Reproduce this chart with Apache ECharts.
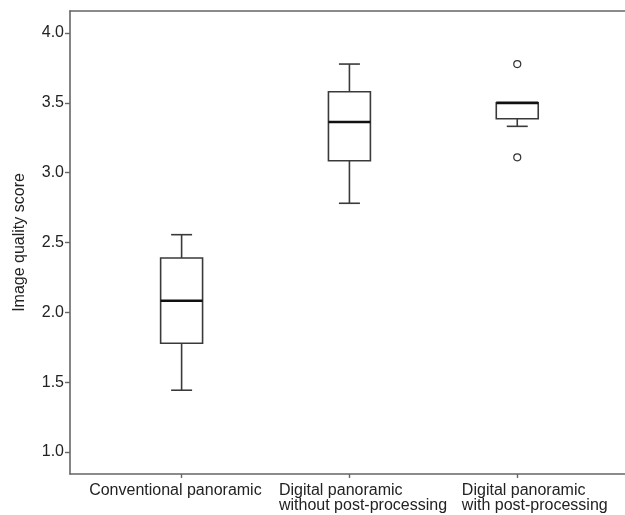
<!DOCTYPE html>
<html>
<head>
<meta charset="utf-8">
<script src="https://cdn.jsdelivr.net/npm/echarts@6/dist/echarts.min.js"></script>
<style>html,body{margin:0;padding:0;background:#fff}#c{width:625px;height:515px}</style>
</head>
<body>
<div id="c"></div>
<script>
// ---- data ----
const categories = ['Conventional panoramic', 'Digital panoramic\nwithout post-processing', 'Digital panoramic\nwith post-processing'];
// [lower whisker, Q1, median, Q3, upper whisker]
const boxStats = [
  [1.442, 1.778, 2.083, 2.389, 2.556],
  [2.781, 3.086, 3.363, 3.580, 3.778],
  [3.332, 3.386, 3.500, 3.500, 3.500]
];
// outliers: [category index, value]
const outliers = [[2, 3.778], [2, 3.110]];
const yTicks = [1.0, 1.5, 2.0, 2.5, 3.0, 3.5, 4.0];
const yAxisTitle = 'Image quality score';

// ---- layout ----
const labelShift = [-0.551, -0.42, -0.33];
const font = 'Liberation Sans, Arial, Helvetica, sans-serif';
const boxData = boxStats.map((s, i) => [i + 1].concat(s));
const outlierData = outliers.map(o => [o[0] + 1, o[1]]);
const catPos = categories.map((c, i) => i + 1);
const labelPos = categories.map((c, i) => i + 1 + labelShift[i]);

const chart = echarts.init(document.getElementById('c'), null, {renderer: 'canvas'});
chart.setOption({
  animation: false,
  grid: {left: 70, right: 0, top: 11, bottom: 41, containLabel: false},
  xAxis: [{
    type: 'value', min: 0.335, max: 3.642, position: 'bottom',
    axisLine: {show: true, onZero: false, lineStyle: {color: '#666', width: 1.6}},
    axisTick: {show: true, customValues: catPos, length: 4, lineStyle: {color: '#666', width: 1.4}},
    axisLabel: {
      show: true, customValues: labelPos, align: 'left', margin: 9,
      color: '#222', fontSize: 16, fontFamily: font, lineHeight: 15,
      formatter: function (v) {
        const i = labelPos.findIndex(p => Math.abs(p - v) < 1e-6);
        return i >= 0 ? categories[i] : '';
      }
    },
    splitLine: {show: false}
  }, {
    type: 'value', min: 0.335, max: 3.642, position: 'top',
    axisLine: {show: true, onZero: false, lineStyle: {color: '#666', width: 1.6}},
    axisTick: {show: false}, axisLabel: {show: false}, splitLine: {show: false}
  }],
  yAxis: {
    type: 'value', min: 0.842, max: 4.158,
    name: yAxisTitle, nameLocation: 'middle', nameGap: 42, nameRotate: 90,
    nameTextStyle: {color: '#222', fontSize: 16, fontFamily: font},
    axisLine: {show: true, onZero: false, lineStyle: {color: '#666', width: 1.6}},
    axisTick: {show: true, customValues: yTicks, length: 5, lineStyle: {color: '#666', width: 1.4}},
    axisLabel: {
      show: true, customValues: yTicks, margin: 6,
      color: '#222', fontSize: 16, fontFamily: font,
      formatter: v => Number(v).toFixed(1)
    },
    splitLine: {show: false}
  },
  series: [{
    type: 'custom',
    xAxisIndex: 0,
    data: boxData,
    encode: {x: 0, y: [1, 2, 3, 4, 5]},
    renderItem: function (params, api) {
      const x = api.value(0);
      const unit = api.size([1, 0])[0];
      const half = unit * 0.125;
      const capHalf = unit * 0.0625;
      const pMin = api.coord([x, api.value(1)]);
      const pQ1 = api.coord([x, api.value(2)]);
      const pMed = api.coord([x, api.value(3)]);
      const pQ3 = api.coord([x, api.value(4)]);
      const pMax = api.coord([x, api.value(5)]);
      const cx = pMed[0];
      const stroke = {stroke: '#3a3a3a', lineWidth: 1.6, fill: null};
      return {
        type: 'group',
        children: [
          {type: 'line', shape: {x1: cx, y1: pQ1[1], x2: cx, y2: pMin[1]}, style: stroke},
          {type: 'line', shape: {x1: cx, y1: pQ3[1], x2: cx, y2: pMax[1]}, style: stroke},
          {type: 'line', shape: {x1: cx - capHalf, y1: pMin[1], x2: cx + capHalf, y2: pMin[1]}, style: stroke},
          {type: 'line', shape: {x1: cx - capHalf, y1: pMax[1], x2: cx + capHalf, y2: pMax[1]}, style: stroke},
          {type: 'rect', shape: {x: cx - half, y: pQ3[1], width: half * 2, height: pQ1[1] - pQ3[1]},
            style: {stroke: '#3a3a3a', lineWidth: 1.6, fill: '#fff'}},
          {type: 'line', shape: {x1: cx - half, y1: pMed[1], x2: cx + half, y2: pMed[1]},
            style: {stroke: '#111', lineWidth: 2.6}}
        ]
      };
    }
  }, {
    type: 'scatter',
    xAxisIndex: 0,
    yAxisIndex: 0,
    data: outlierData,
    symbol: 'circle',
    symbolSize: 7,
    z: 5,
    itemStyle: {color: '#ffffff', borderColor: '#333333', borderWidth: 1.2, opacity: 1}
  }]
});
</script>
</body>
</html>
